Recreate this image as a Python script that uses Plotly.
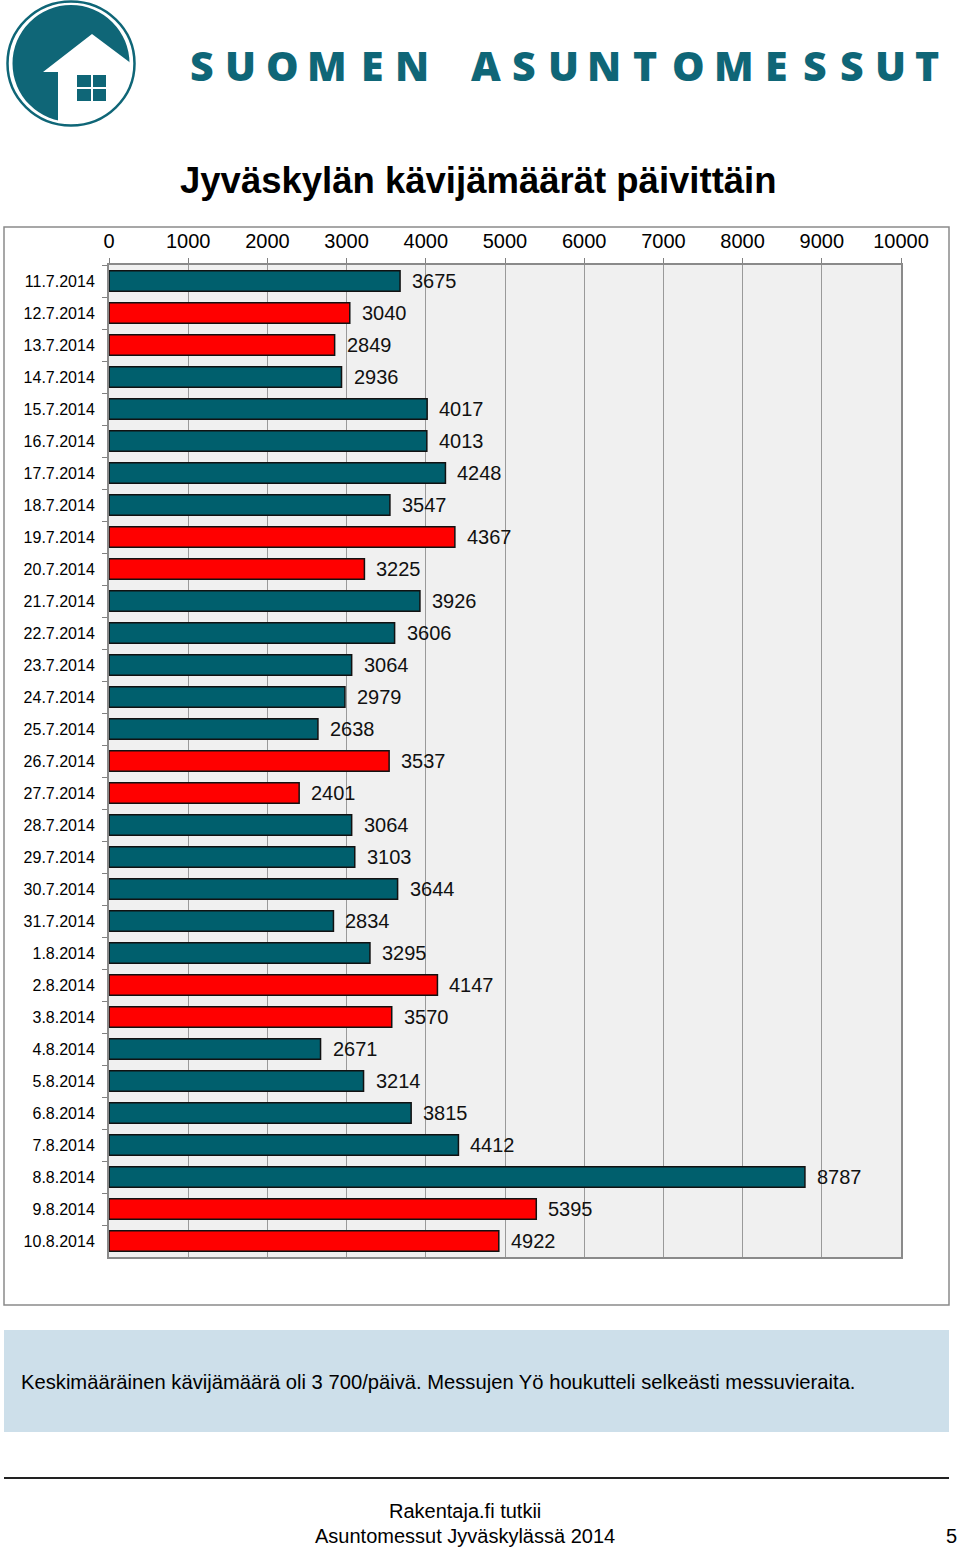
import plotly.graph_objects as go

# ---------------- data ----------------
dates = ["11.7.2014", "12.7.2014", "13.7.2014", "14.7.2014", "15.7.2014", "16.7.2014",
         "17.7.2014", "18.7.2014", "19.7.2014", "20.7.2014", "21.7.2014", "22.7.2014",
         "23.7.2014", "24.7.2014", "25.7.2014", "26.7.2014", "27.7.2014", "28.7.2014",
         "29.7.2014", "30.7.2014", "31.7.2014", "1.8.2014", "2.8.2014", "3.8.2014",
         "4.8.2014", "5.8.2014", "6.8.2014", "7.8.2014", "8.8.2014", "9.8.2014", "10.8.2014"]
visitors = [3675, 3040, 2849, 2936, 4017, 4013, 4248, 3547, 4367, 3225, 3926, 3606,
            3064, 2979, 2638, 3537, 2401, 3064, 3103, 3644, 2834, 3295, 4147, 3570,
            2671, 3214, 3815, 4412, 8787, 5395, 4922]
weekend = [False, True, True, False, False, False, False, False, True, True, False, False,
           False, False, False, True, True, False, False, False, False, False, True, True,
           False, False, False, False, False, True, True]
x_ticks = [0, 1000, 2000, 3000, 4000, 5000, 6000, 7000, 8000, 9000, 10000]

title_text = "Jyväskylän kävijämäärät päivittäin"
note_text = "Keskimääräinen kävijämäärä oli 3 700/päivä. Messujen Yö houkutteli selkeästi messuvieraita."
footer1 = "Rakentaja.fi tutkii"
footer2 = "Asuntomessut Jyväskylässä 2014"
page_no = "5"
brand_letters = list("SUOMEN") + list("ASUNTOMESSUT")

# ---------------- styling ----------------
TEAL = "#005f6d"
RED = "#ff0000"
LOGO = "#0f6677"
FONT = "Liberation Sans, Arial, sans-serif"

W, H = 960, 1549
ML, MR, MT, MB = 109, 59, 265, 292
PW, PH = W - ML - MR, H - MT - MB


def PX(x):
    return (x - ML) / PW


def PY(y):
    return 1 - (y - MT) / PH


colors = [RED if w else TEAL for w in weekend]

fig = go.Figure()
fig.add_trace(go.Bar(
    x=visitors, y=dates, orientation="h",
    marker=dict(color=colors, line=dict(color="#111111", width=1.5)),
    hoverinfo="x+y", showlegend=False,
))

annotations = []
for d, v in zip(dates, visitors):
    annotations.append(dict(x=v, y=d, xref="x", yref="y", text=str(v), showarrow=False,
                            xanchor="left", yanchor="middle", xshift=10,
                            font=dict(size=20, color="#111111", family=FONT)))

# title
annotations.append(dict(x=PX(478), y=PY(180), xref="paper", yref="paper", text=f"<b>{title_text}</b>",
                        showarrow=False, xanchor="center", yanchor="middle",
                        font=dict(size=36.5, color="#000000", family=FONT)))
# brand letters
brand_x = [202, 240, 282, 327, 372, 412, 486, 524, 563, 604, 645, 688, 734, 776, 815, 852, 890, 927]
for ch, bx in zip(brand_letters, brand_x):
    annotations.append(dict(x=PX(bx), y=PY(65), xref="paper", yref="paper", text=ch,
                            showarrow=False, xanchor="center", yanchor="middle",
                            font=dict(size=41, color=LOGO, family="Open Sans", weight=800)))
# note box text
annotations.append(dict(x=PX(19), y=PY(1382), xref="paper", yref="paper", text=note_text,
                        showarrow=False, xanchor="left", yanchor="middle",
                        font=dict(size=20.2, color="#000000", family=FONT)))
# footer
annotations.append(dict(x=PX(465), y=PY(1511), xref="paper", yref="paper", text=footer1,
                        showarrow=False, xanchor="center", yanchor="middle",
                        font=dict(size=20, color="#000000", family=FONT)))
annotations.append(dict(x=PX(465), y=PY(1536), xref="paper", yref="paper", text=footer2,
                        showarrow=False, xanchor="center", yanchor="middle",
                        font=dict(size=20, color="#000000", family=FONT)))
annotations.append(dict(x=PX(951), y=PY(1536), xref="paper", yref="paper", text=page_no,
                        showarrow=False, xanchor="center", yanchor="middle",
                        font=dict(size=20, color="#000000", family=FONT)))

shapes = []
# outer chart frame
shapes.append(dict(type="rect", xref="paper", yref="paper", x0=PX(4), x1=PX(949), y0=PY(227), y1=PY(1305),
                   line=dict(color="#8a8a8a", width=1.5), fillcolor="rgba(0,0,0,0)", layer="below"))
# note box
shapes.append(dict(type="rect", xref="paper", yref="paper", x0=PX(4), x1=PX(949), y0=PY(1330), y1=PY(1432),
                   line=dict(width=0), fillcolor="#cddfea", layer="below"))
# footer rule
shapes.append(dict(type="line", xref="paper", yref="paper", x0=PX(4), x1=PX(949), y0=PY(1478), y1=PY(1478),
                   line=dict(color="#222222", width=2)))

# logo
cx, cy = 71, 63.5
shapes.append(dict(type="circle", xref="paper", yref="paper", x0=PX(cx - 58.5), x1=PX(cx + 58.5),
                   y0=PY(cy + 58.5), y1=PY(cy - 58.5), line=dict(width=0), fillcolor=LOGO))
house = [(43, 72), (92, 34), (136, 67), (136, 130), (58, 130), (58, 72)]
path = "M " + " L ".join(f"{PX(a)},{PY(b)}" for a, b in house) + " Z"
shapes.append(dict(type="path", xref="paper", yref="paper", path=path, line=dict(width=0), fillcolor="white"))
shapes.append(dict(type="circle", xref="paper", yref="paper", x0=PX(cx - 63.5), x1=PX(cx + 63.5),
                   y0=PY(cy + 62), y1=PY(cy - 62), line=dict(color=LOGO, width=2.5), fillcolor="rgba(0,0,0,0)"))
for (a0, a1) in [(77, 91), (93, 106)]:
    for (b0, b1) in [(75, 87), (89, 101)]:
        shapes.append(dict(type="rect", xref="paper", yref="paper", x0=PX(a0), x1=PX(a1), y0=PY(b1), y1=PY(b0),
                           line=dict(width=0), fillcolor=LOGO))

fig.update_layout(
    width=W, height=H,
    margin=dict(l=ML, r=MR, t=MT, b=MB, pad=0),
    paper_bgcolor="white",
    plot_bgcolor="#f0f0f0",
    bargap=0.36,
    font=dict(family=FONT, color="#000000"),
    annotations=annotations,
    shapes=shapes,
    xaxis=dict(side="top", range=[0, 10000], tickvals=x_ticks, ticktext=[str(t) for t in x_ticks],
               showgrid=True, gridcolor="#9a9a9a", gridwidth=1,
               ticks="outside", ticklen=5, tickcolor="#808080",
               tickfont=dict(size=20, family=FONT, color="#000000"),
               ticklabelstandoff=2,
               showline=True, linecolor="#8a8a8a", linewidth=2, mirror=True, zeroline=False, fixedrange=True),
    yaxis=dict(type="category", autorange="reversed", categoryorder="array", categoryarray=dates,
               ticks="outside", tickson="boundaries", ticklen=5, tickcolor="#808080",
               tickfont=dict(size=16, family=FONT, color="#000000"),
               ticklabelstandoff=9,
               showline=True, linecolor="#8a8a8a", linewidth=2, mirror=True, showgrid=False, fixedrange=True),
)

fig.write_html("out.html", config={"displayModeBar": False},
               post_script="document.body.style.margin='0';")
